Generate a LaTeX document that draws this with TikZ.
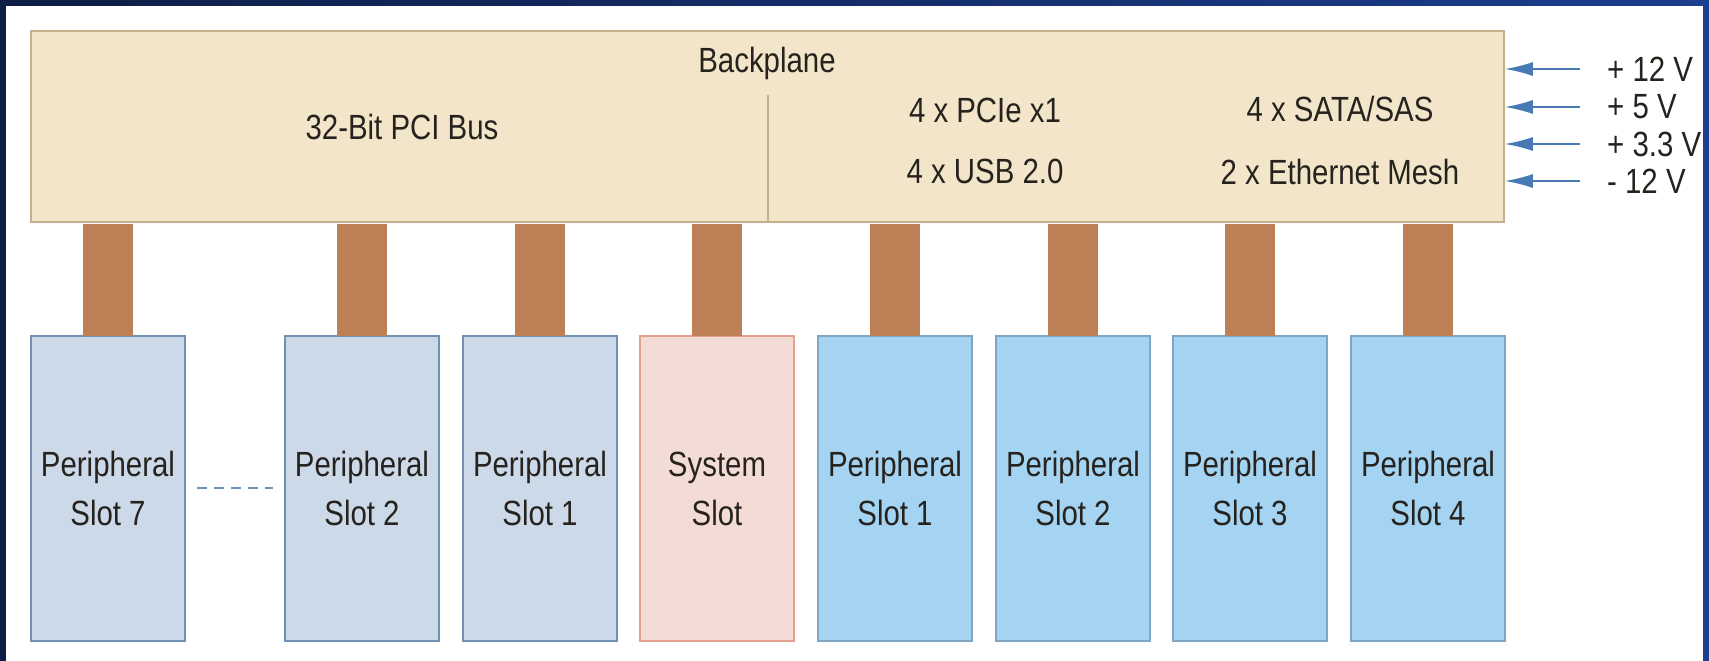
\documentclass[tikz,border=0pt]{standalone}
\usepackage{fontspec}
\setmainfont{Liberation Sans}[FakeStretch=0.84]
\usetikzlibrary{arrows.meta}
\definecolor{frameA}{HTML}{0E1D45}
\definecolor{frameB}{HTML}{1B3E8E}
\definecolor{bpfill}{HTML}{F3E5C9}
\definecolor{bpline}{HTML}{C4B08A}
\definecolor{brown}{HTML}{BD7F56}
\definecolor{grayfill}{HTML}{CCD9E8}
\definecolor{grayline}{HTML}{7090B4}
\definecolor{sysfill}{HTML}{F4DCD6}
\definecolor{sysline}{HTML}{E2A08E}
\definecolor{bluefill}{HTML}{A4D4F2}
\definecolor{blueline}{HTML}{80A6C6}
\definecolor{txt}{HTML}{26221E}
\definecolor{arrowc}{HTML}{4A7AB5}
\tikzset{
  lbl/.style={inner sep=0pt, text=txt, font=\fontsize{35}{42}\selectfont},
  slotbox/.style={draw, line width=1.5pt, minimum width=154pt, minimum height=305pt, inner sep=0pt,
    align=center, text=txt, font=\fontsize{35}{49}\selectfont},
  oldslot/.style={slotbox, fill=grayfill, draw=grayline},
  sysslot/.style={slotbox, fill=sysfill, draw=sysline},
  newslot/.style={slotbox, fill=bluefill, draw=blueline},
  bar/.style={brown, line width=50pt},
  pwr/.style={arrowc, line width=2pt, -{Latex[length=28pt, width=14pt]}},
  vlbl/.style={lbl, anchor=west},
}
\begin{document}
\begin{tikzpicture}[x=1pt, y=-1pt]
\useasboundingbox (0,0) rectangle (1709,661);
\shade[left color=frameA, right color=frameB] (0,0) rectangle (1709,661);
\fill[white] (6,6) rectangle (1703,661);

% backplane
\node[draw=bpline, fill=bpfill, line width=1.5pt, minimum width=1473pt, minimum height=191pt, inner sep=0pt]
  (bp) at (767.5,126.5) {};
\coordinate (divtop) at (768,95);
\draw[bpline, line width=1.5pt] (divtop) -- (divtop |- bp.south);

\node[lbl] (tbp) at (767,63) {Backplane};
\node[lbl] (tpci) at (402,127) {32-Bit PCI Bus};
\node[lbl] (tpcie) at (985,110) {4 x PCIe x1};
\node[lbl] (tusb) at (985,171) {4 x USB 2.0};
\node[lbl] (tsata) at (1340,109) {4 x SATA/SAS};
\node[lbl] (teth) at (1340,172) {2 x Ethernet Mesh};

% slots
\node[oldslot] (p7) at (108,488.5) {Peripheral\\Slot 7};
\node[oldslot] (p2l) at (362,488.5) {Peripheral\\Slot 2};
\node[oldslot] (p1l) at (540,488.5) {Peripheral\\Slot 1};
\node[sysslot] (sys) at (717,488.5) {System\\Slot};
\node[newslot] (p1r) at (895,488.5) {Peripheral\\Slot 1};
\node[newslot] (p2r) at (1073,488.5) {Peripheral\\Slot 2};
\node[newslot] (p3r) at (1250,488.5) {Peripheral\\Slot 3};
\node[newslot] (p4r) at (1428,488.5) {Peripheral\\Slot 4};

% connectors
\foreach \s in {p7,p2l,p1l,sys,p1r,p2r,p3r,p4r}
  \draw[bar] ([yshift=-0.75pt]\s.north) -- ([yshift=-0.75pt]\s.north |- bp.south);

% dashed ellipsis
\coordinate (da) at (197,488);
\coordinate (db) at (273,488);
\draw[grayline, line width=1.5pt, dash pattern=on 10pt off 7pt] (da) -- (db);

% power inputs
\node[vlbl] (v1) at (1607,69) {+ 12 V};
\node[vlbl] (v2) at (1607,107) {+ 5 V};
\node[vlbl] (v3) at (1607,144) {+ 3.3 V};
\node[vlbl] (v4) at (1607,181) {- 12 V};
\foreach \v in {v1,v2,v3,v4}
  \draw[pwr] ([xshift=-27pt]\v.west) -- (\v.west -| bp.east);
\end{tikzpicture}
\end{document}
